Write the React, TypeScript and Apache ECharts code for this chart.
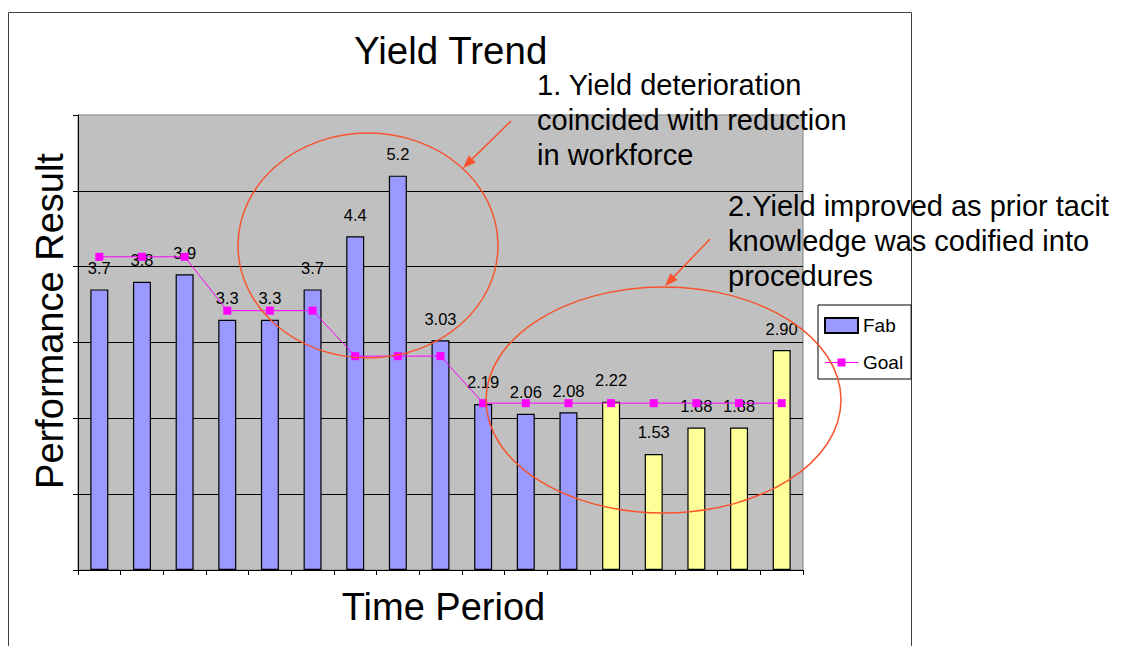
import React, { useEffect, useRef } from 'react';
import * as echarts from 'echarts';

// ---- chart data ----
const periods = ['1', '2', '3', '4', '5', '6', '7', '8', '9', '10', '11', '12', '13', '14', '15', '16', '17'];
const fabLabels = ['3.7', '3.8', '3.9', '3.3', '3.3', '3.7', '4.4', '5.2', '3.03', '2.19', '2.06', '2.08', '2.22', '1.53', '1.88', '1.88', '2.90'];
const fabValues = fabLabels.map(Number);
const codifiedPeriods = [false, false, false, false, false, false, false, false, false, false, false, false, true, true, true, true, true];
const goalValues = [4.13, 4.13, 4.13, 3.42, 3.42, 3.42, 2.82, 2.82, 2.82, 2.2, 2.2, 2.2, 2.2, 2.2, 2.2, 2.2, 2.2];
const yMin = 0;
const yMax = 6;
const yStep = 1;

const titleText = 'Yield Trend';
const xAxisName = 'Time Period';
const yAxisName = 'Performance Result';
const noteWorkforce = ['1. Yield deterioration', 'coincided with reduction', 'in workforce'];
const noteCodified = ['2.Yield improved as prior tacit', 'knowledge was codified into', 'procedures'];

// ---- styling ----
const FONT = '"Liberation Sans", Arial, sans-serif';
const BLUE = '#9999FF';
const YELLOW = '#FFFF99';
const MAGENTA = '#FF00FF';
const NOTE_RED = '#F8532C';

function arrow(x1: number, y1: number, x2: number, y2: number) {
  const dx = x2 - x1;
  const dy = y2 - y1;
  const len = Math.hypot(dx, dy);
  const ux = dx / len;
  const uy = dy / len;
  const headLen = 13;
  const halfW = 5;
  const bx = x2 - ux * headLen;
  const by = y2 - uy * headLen;
  const nx = -uy;
  const ny = ux;
  return [
    {
      type: 'line',
      z: 100,
      shape: { x1, y1, x2: bx, y2: by },
      style: { stroke: NOTE_RED, lineWidth: 1.5 },
    },
    {
      type: 'polygon',
      z: 100,
      shape: {
        points: [
          [x2, y2],
          [bx + nx * halfW, by + ny * halfW],
          [bx - nx * halfW, by - ny * halfW],
        ],
      },
      style: { fill: NOTE_RED },
    },
  ];
}

export default function App() {
  const ref = useRef<HTMLDivElement>(null);

  useEffect(() => {
    if (!ref.current) return;
    const chart = echarts.init(ref.current, null, { renderer: 'svg' });

    const option: any = {
      animation: false,
      backgroundColor: '#FFFFFF',
      title: {
        text: titleText,
        left: 354,
        top: 31,
        padding: 0,
        textStyle: { fontFamily: FONT, fontSize: 38.5, fontWeight: 'normal', color: '#000' },
      },
      legend: {
        orient: 'vertical',
        left: 818,
        top: 305,
        padding: [11, 8, 7, 6],
        itemGap: 18,
        itemWidth: 33,
        itemHeight: 15,
        backgroundColor: '#FFFFFF',
        borderColor: '#000000',
        borderWidth: 1,
        borderRadius: 0,
        selectedMode: false,
        textStyle: { fontFamily: FONT, fontSize: 19, color: '#000' },
        data: [
          { name: 'Fab', icon: 'rect' },
          {
            name: 'Goal',
            icon: 'path://M0,3.5H12.5V0H20.5V3.5H33V4.5H20.5V8H12.5V4.5H0Z',
            itemStyle: { color: MAGENTA, borderWidth: 0 },
          },
        ],
      },
      grid: {
        left: 78,
        right: 318,
        top: 115,
        bottom: 76,
        show: true,
        backgroundColor: '#C0C0C0',
        borderColor: '#808080',
        borderWidth: 1,
      },
      xAxis: {
        type: 'category',
        data: periods,
        boundaryGap: true,
        name: xAxisName,
        nameLocation: 'middle',
        nameGap: 18,
        nameTextStyle: { fontFamily: FONT, fontSize: 38, color: '#000', verticalAlign: 'top', padding: [0, 0, 0, 6] },
        axisLine: { show: true, lineStyle: { color: '#000', width: 1 } },
        axisTick: { show: true, inside: false, length: 5, lineStyle: { color: '#000' } },
        axisLabel: { show: false },
        splitLine: { show: false },
      },
      yAxis: {
        type: 'value',
        min: yMin,
        max: yMax,
        interval: yStep,
        axisLine: { show: true, lineStyle: { color: '#000', width: 1 } },
        axisTick: { show: true, inside: false, length: 5, lineStyle: { color: '#000' } },
        axisLabel: { show: false },
        splitLine: {
          show: true,
          showMinLine: false,
          showMaxLine: false,
          lineStyle: { color: '#000', width: 1 },
        },
      },
      series: [
        {
          name: 'Fab',
          type: 'bar',
          barWidth: 18,
          data: fabValues.map((v, i) => ({
            value: v,
            itemStyle: codifiedPeriods[i] ? { color: YELLOW } : undefined,
          })),
          itemStyle: { color: BLUE, borderColor: '#000', borderWidth: 1.2 },
          label: {
            show: true,
            position: 'top',
            distance: 13,
            fontFamily: FONT,
            fontSize: 16.5,
            color: '#000',
            formatter: (p: any) => fabLabels[p.dataIndex],
          },
          z: 2,
        },
        {
          name: 'Goal',
          type: 'line',
          data: goalValues,
          symbol: 'rect',
          symbolSize: 8,
          showAllSymbol: true,
          lineStyle: { color: MAGENTA, width: 1 },
          itemStyle: { color: MAGENTA, borderWidth: 0 },
          z: 3,
        },
      ],
      graphic: [
        {
          type: 'rect',
          z: 0,
          silent: true,
          shape: { x: 8.5, y: 12.5, width: 903, height: 700 },
          style: { fill: 'none', stroke: '#404040', lineWidth: 1 },
        },
        {
          type: 'text',
          z: 100,
          x: 50,
          y: 321,
          rotation: Math.PI / 2,
          style: {
            text: yAxisName,
            fontFamily: FONT,
            fontSize: 38,
            fill: '#000',
            align: 'center',
            verticalAlign: 'middle',
          },
        },
        {
          type: 'ellipse',
          z: 100,
          silent: true,
          shape: { cx: 368, cy: 245.5, rx: 130, ry: 112.5 },
          style: { fill: 'none', stroke: NOTE_RED, lineWidth: 1.5 },
        },
        {
          type: 'ellipse',
          z: 100,
          silent: true,
          shape: { cx: 663.5, cy: 400, rx: 177.5, ry: 113 },
          style: { fill: 'none', stroke: NOTE_RED, lineWidth: 1.5 },
        },
        ...arrow(511, 121, 463, 168),
        ...arrow(710, 239, 665, 286),
        {
          type: 'text',
          z: 101,
          x: 537,
          y: 68,
          style: {
            text: noteWorkforce.join('\n'),
            fontFamily: FONT,
            fontSize: 29,
            lineHeight: 34.6,
            fill: '#000',
          },
        },
        {
          type: 'text',
          z: 101,
          x: 728,
          y: 189,
          style: {
            text: noteCodified.join('\n'),
            fontFamily: FONT,
            fontSize: 29,
            lineHeight: 34.6,
            fill: '#000',
          },
        },
      ],
    };

    chart.setOption(option);
    return () => chart.dispose();
  }, []);

  return (
    <div
      ref={ref}
      style={{ position: 'fixed', left: 0, top: 0, width: 1121, height: 646 }}
    />
  );
}
